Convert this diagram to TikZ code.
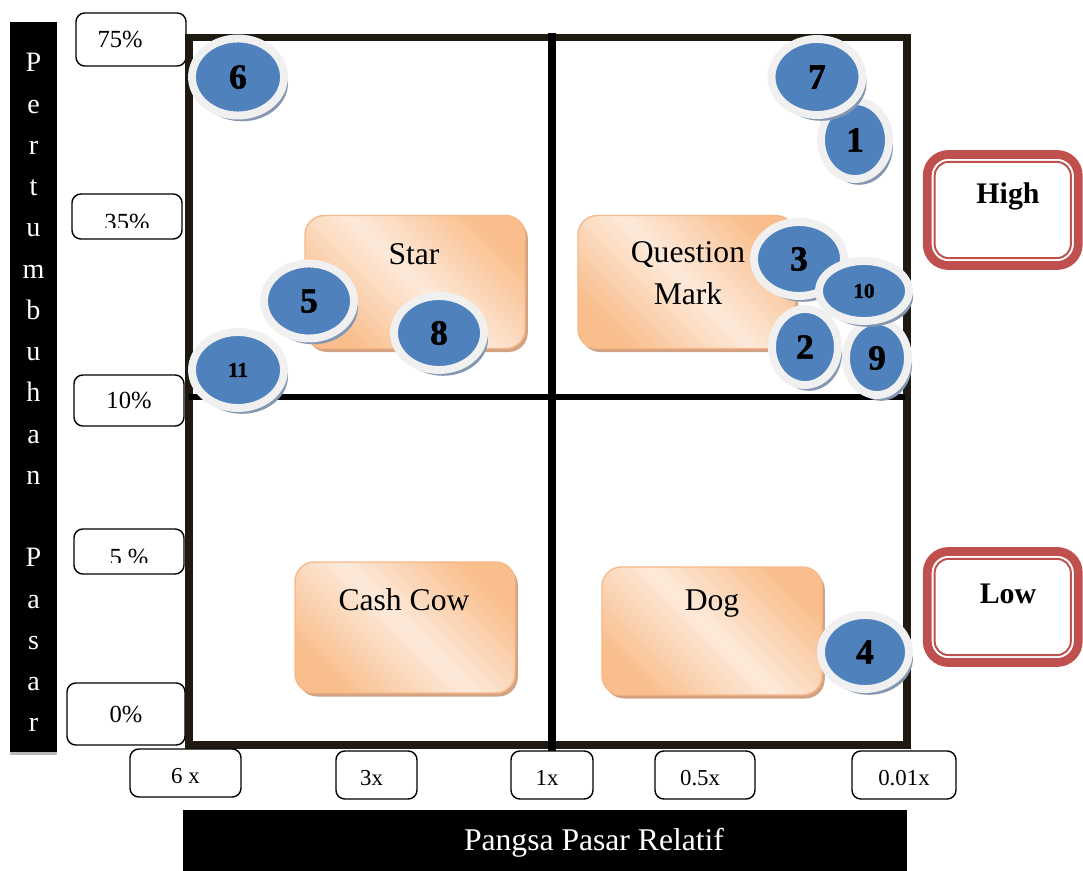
\documentclass[tikz,border=0pt]{standalone}
\usepackage{fontspec}
\setmainfont{Liberation Serif}
\newfontfamily\unitfont{Liberation Serif}[BoldFeatures={FakeBold=1.6}]
\usetikzlibrary{shapes.geometric,shadows}

\definecolor{framedark}{HTML}{1E1A12}
\definecolor{peachdark}{HTML}{F9BE8C}
\definecolor{peachlight}{HTML}{FDEADB}
\definecolor{peachline}{HTML}{F7B98A}
\definecolor{peachshadow}{HTML}{D2A282}
\definecolor{dotblue}{HTML}{4F81BD}
\definecolor{ringgray}{HTML}{F0F0F0}
\definecolor{dotshadow}{HTML}{8496B0}
\definecolor{levelred}{HTML}{C0504D}

\tikzset{
  sz/.style 2 args={minimum width=#1*0.02cm, minimum height=#2*0.02cm},
  ratebox/.style={draw, line width=0.8pt, rounded corners=5pt, fill=white,
    inner sep=0pt, font=\fontsize{14}{16}\selectfont},
  sharebox/.style={ratebox, font=\fontsize{13}{15}\selectfont,
    text height=12.5pt, text depth=0pt},
  barletter/.style={text=white, anchor=base, font=\fontsize{16}{16}\selectfont},
  quad/.style={draw=peachline, line width=0.8pt, rounded corners=11pt,
    top color=peachdark, bottom color=peachdark, middle color=peachlight,
    shading angle=-45,
    drop shadow={shadow xshift=1.6pt, shadow yshift=-2pt, opacity=1, fill=peachshadow}},
  quadtext/.style={align=center, font=\fontsize{18}{24}\selectfont},
  unitdot/.style={ellipse, draw=ringgray, line width=4.5pt, fill=dotblue,
    inner sep=0pt, font=\fontsize{20}{20}\unitfont\bfseries,
    drop shadow={shadow xshift=2.3pt, shadow yshift=-3.3pt, opacity=1, fill=dotshadow}},
  smallnum/.style={font=\fontsize{12}{12}\unitfont\bfseries},
  level/.style={draw=levelred, line width=5pt, rounded corners=12pt, fill=white,
    outer sep=0pt, sz={151}{111}},
  leveltext/.style={font=\fontsize{17}{17}\selectfont\bfseries}
}

\begin{document}
\begin{tikzpicture}[x=0.02cm, y=-0.02cm]
\useasboundingbox (0,0) rectangle (1083,871);

% growth axis bar
\fill[gray!55] (10,25) rectangle (57,755);
\fill[black] (10,22) rectangle (57,752);
\foreach \ch [count=\i from 0] in {P,e,r,t,u,m,b,u,h,a,n}
  \node[barletter] (ga\i) at (33.5,72+41.25*\i) {\ch};
\foreach \ch [count=\i from 12] in {P,a,s,a,r}
  \node[barletter] (gb\i) at (33.5,72+41.25*\i) {\ch};

% growth rates
\node[ratebox, sz={110}{53}] (y75) at (131,39.5) {\hspace*{-12.4pt}75\%};
\node[ratebox, sz={110}{45},
  path picture={
    \clip (path picture bounding box.north west) rectangle ([yshift=6.8pt]path picture bounding box.south east);
    \node[anchor=base] at ([yshift=5.1pt]path picture bounding box.south) {35\%};
  }] (y35) at (127,216.5) {};
\node[ratebox, sz={110}{51}] (y10) at (129,400.5) {10\%};
\node[ratebox, sz={110}{45},
  path picture={
    \clip (path picture bounding box.north west) rectangle ([yshift=6.8pt]path picture bounding box.south east);
    \node[anchor=base] at ([yshift=5.1pt]path picture bounding box.south) {5 \%};
  }] (y5) at (129,551.5) {};
\node[ratebox, sz={118}{62}] (y0) at (126,714) {0\%};

% matrix
\draw[framedark, line width=4pt] (189,37.5) rectangle (907,745);
\draw[black, line width=4pt] (552,33) -- (552,765);
\draw[black, line width=3.5pt] (189,397) -- (905,397);

% relative share
\node[sharebox, sz={111}{48}] (x6) at (185.5,773) {6 x};
\node[sharebox, sz={81}{48}] (x3) at (376.5,775) {\hspace*{-5.6pt}3x};
\node[sharebox, sz={82}{48}] (x1) at (552,775) {\hspace*{-5.6pt}1x};
\node[sharebox, sz={100}{48}] (x05) at (705,775) {\hspace*{-5.6pt}0.5x};
\node[sharebox, sz={104}{48}] (x001) at (904,775) {0.01x};

\fill[black] (183,810) rectangle (907,871);
\node[text=white, font=\fontsize{18}{18}\selectfont] (sharetitle) at (594,843) {Pangsa Pasar Relatif};

\node[quad, sz={220}{133}] (star) at (415,282) {};
\node[quadtext] (startxt) at (414,254) {Star};
\node[quad, sz={217}{133}] (qmark) at (686.5,282) {};
\node[quadtext] (qmarktxt) at (688,273) {Question\\Mark};
\node[quad, sz={220}{131}] (cow) at (405,627.5) {};
\node[quadtext] (cowtxt) at (404,600) {Cash Cow};
\node[quad, sz={220}{128}] (dog) at (712,631) {};
\node[quadtext] (dogtxt) at (712,604) {Dog};

% business units
\node[unitdot, sz={68}{78}] (u1) at (855,140) {1};
\node[unitdot, sz={91}{76}] (u7) at (817,77) {7};
\node[unitdot, sz={92}{77}] (u6) at (238,77) {6};
\node[unitdot, sz={62}{74}] (u9) at (877,358) {9};
\node[unitdot, sz={66}{76}] (u2) at (805,347) {2};
\node[unitdot, sz={90}{74}] (u3) at (799,259) {3};
\node[unitdot, smallnum, sz={90}{60}] (u10) at (864,291) {10};
\node[unitdot, sz={90}{75}] (u5) at (309,301) {5};
\node[unitdot, sz={90}{74}] (u8) at (439,333) {8};
\node[unitdot, smallnum, sz={92}{76}] (u11) at (238,370) {11};
\node[unitdot, sz={88}{74}] (u4) at (865,652) {4};

% high / low
\node[level] (high) at (1002.75,210) {};
\draw[levelred, line width=1.1pt, rounded corners=8pt]
  ([shift={(4.2pt,4.2pt)}]high.south west) rectangle ([shift={(-4.2pt,-4.2pt)}]high.north east);
\node[leveltext] (hightxt) at (1008,196) {High};
\node[level] (low) at (1002.75,607) {};
\draw[levelred, line width=1.1pt, rounded corners=8pt]
  ([shift={(4.2pt,4.2pt)}]low.south west) rectangle ([shift={(-4.2pt,-4.2pt)}]low.north east);
\node[leveltext] (lowtxt) at (1008,594) {Low};
\end{tikzpicture}
\end{document}
